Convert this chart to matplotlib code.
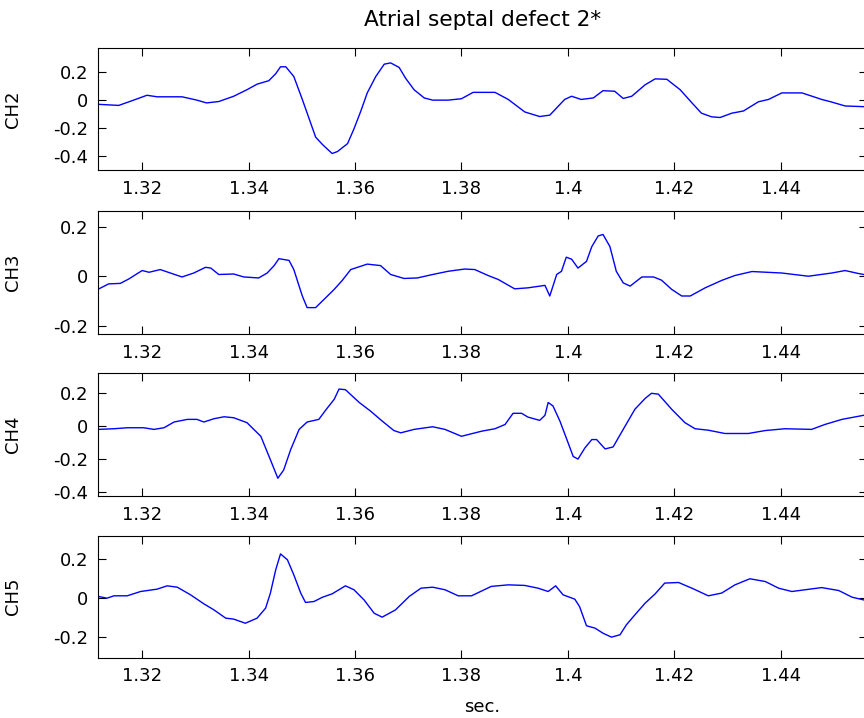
import numpy as np
from matplotlib import pyplot as plt

plt.rc('font', **{'family': 'DejaVu Sans', 'size': 13})

title = 'Atrial septal defect 2*'
channels = ['CH2', 'CH3', 'CH4', 'CH5']

# sampled traces (sec, mV)
t_ch2 = [1.3117, 1.3156, 1.3184, 1.3209, 1.3228, 1.3275, 1.3303, 1.3321, 1.3344, 1.3372,
         1.3397, 1.3416, 1.3438, 1.3451, 1.3460, 1.3470, 1.3485, 1.3501, 1.3514, 1.3526,
         1.3539, 1.3557, 1.3567, 1.3586, 1.3598, 1.3611, 1.3623, 1.3639, 1.3655, 1.3667,
         1.3683, 1.3695, 1.3711, 1.3730, 1.3746, 1.3775, 1.3800, 1.3822, 1.3863, 1.3888,
         1.3919, 1.3947, 1.3966, 1.3994, 1.4007, 1.4025, 1.4048, 1.4066, 1.4088, 1.4104,
         1.4120, 1.4145, 1.4164, 1.4186, 1.4211, 1.4233, 1.4251, 1.4270, 1.4286, 1.4308,
         1.4330, 1.4358, 1.4377, 1.4402, 1.4440, 1.4477, 1.4496, 1.4521, 1.4556]
v_ch2 = [-0.030, -0.038, 0.000, 0.035, 0.024, 0.024, 0.000, -0.020, -0.010, 0.028,
         0.075, 0.115, 0.140, 0.190, 0.240, 0.240, 0.170, 0.005, -0.136, -0.266,
         -0.320, -0.384, -0.370, -0.313, -0.207, -0.078, 0.052, 0.170, 0.259, 0.268,
         0.235, 0.158, 0.075, 0.016, 0.000, 0.000, 0.010, 0.056, 0.056, 0.005,
         -0.085, -0.118, -0.108, 0.005, 0.028, 0.005, 0.016, 0.068, 0.064, 0.012,
         0.028, 0.110, 0.153, 0.150, 0.075, -0.019, -0.094, -0.120, -0.125, -0.094,
         -0.078, -0.012, 0.005, 0.052, 0.052, 0.005, -0.014, -0.042, -0.047]

t_ch3 = [1.3117, 1.3137, 1.3159, 1.3175, 1.3200, 1.3213, 1.3234, 1.3253, 1.3275, 1.3297,
         1.3319, 1.3329, 1.3344, 1.3372, 1.3391, 1.3419, 1.3435, 1.3448, 1.3457, 1.3476,
         1.3485, 1.3495, 1.3501, 1.3510, 1.3526, 1.3545, 1.3561, 1.3576, 1.3592, 1.3623,
         1.3648, 1.3667, 1.3692, 1.3717, 1.3746, 1.3775, 1.3806, 1.3825, 1.3850, 1.3869,
         1.3900, 1.3925, 1.3957, 1.3966, 1.3979, 1.3988, 1.3997, 1.4007, 1.4019, 1.4035,
         1.4045, 1.4057, 1.4066, 1.4079, 1.4091, 1.4104, 1.4117, 1.4139, 1.4161, 1.4176,
         1.4195, 1.4214, 1.4230, 1.4258, 1.4289, 1.4314, 1.4346, 1.4402, 1.4452, 1.4496,
         1.4521, 1.4546, 1.4556]
v_ch3 = [-0.053, -0.031, -0.029, -0.011, 0.023, 0.016, 0.027, 0.013, -0.003, 0.013,
         0.036, 0.033, 0.007, 0.009, -0.003, -0.007, 0.013, 0.043, 0.071, 0.064,
         0.027, -0.040, -0.080, -0.127, -0.127, -0.087, -0.053, -0.017, 0.027, 0.049,
         0.043, 0.007, -0.009, -0.007, 0.007, 0.020, 0.029, 0.027, 0.003, -0.013,
         -0.051, -0.047, -0.037, -0.080, 0.007, 0.020, 0.077, 0.069, 0.033, 0.060,
         0.120, 0.163, 0.169, 0.120, 0.020, -0.027, -0.040, -0.003, -0.003, -0.016,
         -0.053, -0.080, -0.080, -0.047, -0.017, 0.003, 0.019, 0.013, 0.000, 0.013,
         0.023, 0.011, 0.007]

t_ch4 = [1.3117, 1.3147, 1.3172, 1.3203, 1.3222, 1.3241, 1.3260, 1.3285, 1.3303, 1.3316,
         1.3335, 1.3354, 1.3372, 1.3397, 1.3423, 1.3441, 1.3455, 1.3466, 1.3479, 1.3495,
         1.3510, 1.3532, 1.3545, 1.3561, 1.3570, 1.3582, 1.3608, 1.3629, 1.3651, 1.3673,
         1.3686, 1.3711, 1.3746, 1.3769, 1.3800, 1.3838, 1.3863, 1.3882, 1.3897, 1.3913,
         1.3925, 1.3947, 1.3957, 1.3963, 1.3972, 1.3985, 1.3997, 1.4010, 1.4019, 1.4032,
         1.4045, 1.4054, 1.4070, 1.4085, 1.4104, 1.4126, 1.4145, 1.4157, 1.4170, 1.4195,
         1.4220, 1.4239, 1.4264, 1.4295, 1.4339, 1.4371, 1.4408, 1.4458, 1.4483, 1.4515,
         1.4556]
v_ch4 = [-0.020, -0.016, -0.010, -0.010, -0.020, -0.010, 0.025, 0.041, 0.041, 0.025,
         0.045, 0.057, 0.051, 0.021, -0.062, -0.205, -0.318, -0.267, -0.144, -0.020,
         0.025, 0.041, 0.098, 0.164, 0.226, 0.222, 0.144, 0.092, 0.031, -0.027,
         -0.041, -0.020, -0.004, -0.020, -0.062, -0.031, -0.016, 0.010, 0.078, 0.078,
         0.055, 0.035, 0.066, 0.144, 0.123, 0.031, -0.072, -0.185, -0.201, -0.133,
         -0.082, -0.082, -0.139, -0.127, -0.020, 0.103, 0.168, 0.200, 0.195, 0.103,
         0.021, -0.016, -0.025, -0.045, -0.045, -0.027, -0.016, -0.020, 0.010, 0.041,
         0.066]

t_ch5 = [1.3117, 1.3134, 1.3147, 1.3172, 1.3197, 1.3228, 1.3247, 1.3266, 1.3291, 1.3316,
         1.3335, 1.3357, 1.3372, 1.3394, 1.3416, 1.3432, 1.3441, 1.3451, 1.3460, 1.3473,
         1.3485, 1.3498, 1.3507, 1.3523, 1.3539, 1.3557, 1.3582, 1.3598, 1.3617, 1.3636,
         1.3651, 1.3676, 1.3702, 1.3724, 1.3746, 1.3769, 1.3794, 1.3819, 1.3856, 1.3888,
         1.3919, 1.3944, 1.3963, 1.3977, 1.3991, 1.4013, 1.4022, 1.4035, 1.4051, 1.4066,
         1.4082, 1.4098, 1.4110, 1.4126, 1.4145, 1.4164, 1.4182, 1.4208, 1.4233, 1.4264,
         1.4289, 1.4314, 1.4342, 1.4371, 1.4396, 1.4421, 1.4446, 1.4477, 1.4509, 1.4534,
         1.4556]
v_ch5 = [0.009, 0.000, 0.012, 0.012, 0.034, 0.046, 0.063, 0.056, 0.017, -0.029,
         -0.060, -0.102, -0.107, -0.128, -0.102, -0.051, 0.026, 0.145, 0.226, 0.196,
         0.119, 0.026, -0.022, -0.017, 0.005, 0.022, 0.063, 0.043, -0.009, -0.077,
         -0.097, -0.060, 0.009, 0.051, 0.056, 0.043, 0.012, 0.012, 0.060, 0.068,
         0.065, 0.051, 0.034, 0.063, 0.017, -0.005, -0.043, -0.141, -0.153, -0.179,
         -0.199, -0.187, -0.136, -0.085, -0.026, 0.022, 0.077, 0.080, 0.051, 0.012,
         0.026, 0.068, 0.099, 0.085, 0.051, 0.034, 0.043, 0.054, 0.039, 0.005,
         -0.009]

times = [t_ch2, t_ch3, t_ch4, t_ch5]
values = [v_ch2, v_ch3, v_ch4, v_ch5]

xticks = [1.32, 1.34, 1.36, 1.38, 1.40, 1.42, 1.44]
xticklabels = ['1.32', '1.34', '1.36', '1.38', '1.4', '1.42', '1.44']
yticks = [[-0.4, -0.2, 0, 0.2], [-0.2, 0, 0.2], [-0.4, -0.2, 0, 0.2], [-0.2, 0, 0.2]]
yticklabels = [['-0.4', '-0.2', '0', '0.2'], ['-0.2', '0', '0.2'],
               ['-0.4', '-0.2', '0', '0.2'], ['-0.2', '0', '0.2']]
ylims = [(-0.503, 0.375), (-0.235, 0.265), (-0.426, 0.322), (-0.304, 0.319)]
xlim = (1.3117, 1.4562)

# panel rectangles, figure fractions
rects = [(0.1134, 0.7632, 0.890, 0.1699),
         (0.1134, 0.5344, 0.890, 0.1721),
         (0.1134, 0.3092, 0.890, 0.1709),
         (0.1134, 0.0840, 0.890, 0.1699)]

fig = plt.figure(figsize=(8.64, 7.18), dpi=100)

for i in range(4):
    ax = fig.add_axes(rects[i])
    ax.plot(times[i], values[i], color='#0000ff', linewidth=1.0)
    ax.set_xlim(*xlim)
    ax.set_ylim(*ylims[i])
    ax.set_xticks(xticks)
    ax.set_xticklabels(xticklabels)
    ax.set_yticks(yticks[i])
    ax.set_yticklabels(yticklabels[i])
    ax.tick_params(direction='in', length=5.5, width=0.8, top=True, right=True,
                   pad=7, colors='black')
    for s in ax.spines.values():
        s.set_linewidth(0.8)
    ax.set_ylabel(channels[i])
    ax.yaxis.set_label_coords(-0.099, 0.5)
    if i == 0:
        ax.set_title(title, pad=16)
    if i == 3:
        ax.set_xlabel('sec.', labelpad=9)

plt.savefig('out.png', dpi=100)
